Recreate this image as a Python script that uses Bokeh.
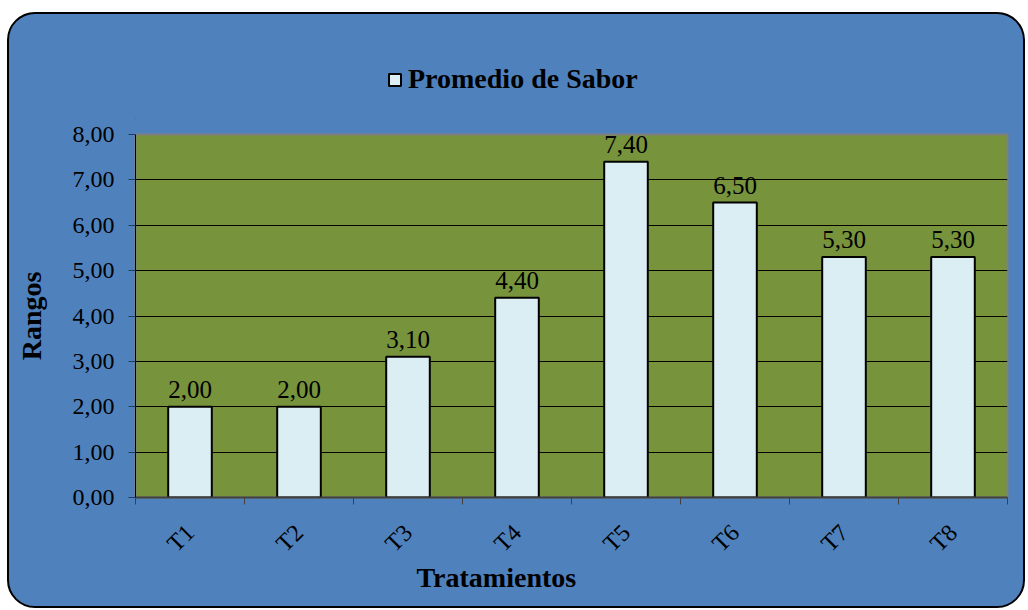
from math import pi
from bokeh.plotting import figure
from bokeh.layouts import column
from bokeh.models import (ColumnDataSource, FixedTicker, LabelSet, Legend, LegendItem,
                          Range1d, Title)
from bokeh.embed import file_html
from bokeh.resources import INLINE

categories = ["T1", "T2", "T3", "T4", "T5", "T6", "T7", "T8"]
values = [2.00, 2.00, 3.10, 4.40, 7.40, 6.50, 5.30, 5.30]
y_ticks = [0, 1, 2, 3, 4, 5, 6, 7, 8]
y_max = 8
series_name = "Promedio de Sabor"
x_title = "Tratamientos"
y_title = "Rangos"

FONT = "Liberation Serif"
BLUE = "#4F81BD"
OLIVE = "#77933C"
BAR = "#DBEEF3"

def fmt(v):
    return f"{v:.2f}".replace(".", ",")

xs = list(range(1, len(categories) + 1))
src = ColumnDataSource(dict(x=xs, top=values, label=[fmt(v) for v in values]))

# ---- main chart ----
p = figure(frame_width=872, frame_height=363, output_backend="svg", toolbar_location=None,
           x_range=Range1d(0.5, len(categories) + 0.5), y_range=Range1d(0, y_max),
           min_border_left=126, min_border_right=16, min_border_top=15, min_border_bottom=109)
p.border_fill_color = None
p.background_fill_color = OLIVE
p.outline_line_color = "#808080"
p.outline_line_width = 2

r = p.vbar(x="x", top="top", width=0.4, source=src, fill_color=BAR,
           line_color="black", line_width=2)

lbl = LabelSet(x="x", y="top", text="label", source=src, text_align="center",
               text_baseline="alphabetic", y_offset=9, text_font=FONT,
               text_font_size="25px", text_color="black")
p.add_layout(lbl)

p.xaxis.ticker = FixedTicker(ticks=xs, minor_ticks=[x - 0.5 for x in xs] + [len(xs) + 0.5])
p.xaxis.major_label_overrides = {x: c for x, c in zip(xs, categories)}
p.xaxis.major_label_orientation = pi / 4
p.xaxis.major_tick_line_color = None
p.xaxis.minor_tick_line_color = "#404040"
p.xaxis.minor_tick_out = 7
p.xaxis.minor_tick_in = 0
p.xaxis.axis_line_color = "#404040"
p.xaxis.axis_line_width = 2
p.xaxis.major_label_standoff = 24

p.yaxis.ticker = FixedTicker(ticks=y_ticks)
p.yaxis.major_label_overrides = {t: fmt(t) for t in y_ticks}
p.yaxis.minor_tick_line_color = None
p.yaxis.major_tick_out = 7
p.yaxis.major_tick_in = 0
p.yaxis.major_tick_line_color = "#1F3D63"
p.yaxis.axis_line_color = "black"
p.yaxis.major_label_standoff = 14
p.yaxis.axis_label = y_title
p.yaxis.axis_label_standoff = 23

for ax in (p.xaxis, p.yaxis):
    ax.major_label_text_font = FONT
    ax.major_label_text_font_size = "24px"
    ax.major_label_text_color = "black"
    ax.axis_label_text_font = FONT
    ax.axis_label_text_font_size = "28px"
    ax.axis_label_text_font_style = "bold"
    ax.axis_label_text_color = "black"

xt = Title(text=x_title, align="left", offset=281, standoff=0,
           text_font=FONT, text_font_size="28px", text_font_style="bold",
           text_color="black")
try:
    xt.standoff = -18
except Exception:
    pass
p.add_layout(xt, "below")

p.xgrid.grid_line_color = None
p.ygrid.ticker = FixedTicker(ticks=[t for t in y_ticks if 0 < t < y_max])
p.ygrid.grid_line_color = "black"
p.ygrid.grid_line_width = 1

# ---- header with the legend ----
h = figure(frame_width=1014, frame_height=105, output_backend="svg", toolbar_location=None,
           x_range=Range1d(0, 1), y_range=Range1d(0, 1), x_axis_type=None, y_axis_type=None,
           min_border=0)
h.border_fill_color = None
h.background_fill_color = None
h.outline_line_color = None
h.grid.visible = False
# legend key glyph (kept outside the visible header range)
key = h.vbar(x=[-1], top=[0], width=0.4, fill_color=BAR, line_color="black", line_width=2)

legend = Legend(items=[LegendItem(label=series_name, renderers=[key])],
                location=(378, 24), orientation="horizontal",
                label_text_font=FONT, label_text_font_size="28px",
                label_text_font_style="bold", label_text_color="black",
                glyph_width=15, glyph_height=15, label_standoff=6,
                background_fill_alpha=0, border_line_color=None,
                padding=0, margin=0)
h.add_layout(legend)

layout = column(h, p, spacing=0)
layout.styles = {"background-color": BLUE, "border": "2.5px solid black",
                 "border-radius": "28px", "margin-left": "7px", "margin-top": "12px",
                 "box-sizing": "content-box", "gap": "0px"}

open("out.html", "w").write(file_html(layout, INLINE))
